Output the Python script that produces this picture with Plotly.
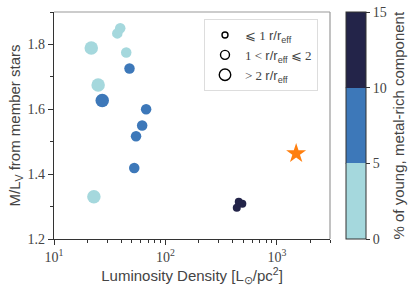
import plotly.graph_objects as go

# ---- data ----
lum_density = [21.6, 39.3, 37.0, 44.5, 47.6, 24.9, 27.1, 67.1, 61.8, 54.5, 52.5, 22.8, 455, 490, 437]
ml_ratio = [1.789, 1.850, 1.834, 1.775, 1.726, 1.675, 1.627, 1.600, 1.550, 1.517, 1.419, 1.330, 1.315, 1.309, 1.296]
young_pct = [2, 2, 2, 2, 7, 2, 7, 7, 7, 7, 7, 2, 12, 12, 12]
radius_class = [3, 2, 2, 2, 2, 3, 3, 2, 2, 2, 2, 3, 1, 1, 1]

star_lum = [1490]
star_ml = [1.464]

legend_labels = [
    '⩽ 1 <span style="font-family:Liberation Sans">r/r<sub>eff</sub></span>',
    '1 &lt; <span style="font-family:Liberation Sans">r/r<sub>eff</sub></span> ⩽ 2',
    '&gt; 2 <span style="font-family:Liberation Sans">r/r<sub>eff</sub></span>',
]
x_tickvals = [10, 100, 1000]
x_ticktext = ['10<sup>1</sup>', '10<sup>2</sup>', '10<sup>3</sup>']
y_tickvals = [1.2, 1.4, 1.6, 1.8]
cbar_ticks = [0, 5, 10, 15]
cbar_title = '% of young, metal-rich component'

# ---- styles ----
C_LIGHT, C_MID, C_DARK = '#a5d8dd', '#3d78b9', '#232449'
size_map = {1: 8, 2: 10.5, 3: 13.5}
legend_sizes = [6, 9, 11.5]
SERIF = 'Liberation Serif'
SANS = 'Liberation Sans'

colorscale = [[0, C_LIGHT], [1/3, C_LIGHT], [1/3, C_MID], [2/3, C_MID], [2/3, C_DARK], [1, C_DARK]]

W, H = 415, 291
L, R, T, B = 54, 85, 12, 52
pw = W - L - R
ph = H - T - B
cb_x0 = (345.7 - L) / pw
cb_x1 = (365.7 - L) / pw

fig = go.Figure()

fig.add_trace(go.Scatter(
    x=lum_density, y=ml_ratio, mode='markers', showlegend=False,
    marker=dict(
        size=[size_map[c] for c in radius_class], opacity=1,
        color=young_pct, colorscale=colorscale, cmin=0, cmax=15,
        line=dict(width=0),
        showscale=True,
        colorbar=dict(
            x=cb_x0, xanchor='left', xpad=0, y=0.5, yanchor='middle', ypad=0,
            len=1, lenmode='fraction', thickness=20, thicknessmode='pixels',
            outlinewidth=1, outlinecolor='#333333',
            tickmode='array', tickvals=cbar_ticks, ticks='outside', ticklen=4,
            tickcolor='#333333', tickfont=dict(family=SERIF, size=14, color='#444444'),
        ),
    ),
))

fig.add_trace(go.Scatter(
    x=star_lum, y=star_ml, mode='markers', showlegend=False,
    marker=dict(symbol='star', size=15, color='#ff7f0e', opacity=1, line=dict(width=0)),
))

for lab, s in zip(legend_labels, legend_sizes):
    fig.add_trace(go.Scatter(
        x=[None], y=[None], mode='markers', name=lab, showlegend=True,
        marker=dict(size=s, color='rgba(0,0,0,0)', line=dict(color='black', width=1.4)),
    ))

# colorbar dividers and light top/right spines
shapes = []
for v in (5, 10):
    shapes.append(dict(type='line', xref='paper', yref='paper', x0=cb_x0, x1=cb_x1,
                       y0=v / 15, y1=v / 15, line=dict(color='#333333', width=1)))
shapes.append(dict(type='line', xref='paper', yref='paper', x0=0, x1=1, y0=1, y1=1,
                   line=dict(color='#999999', width=1.2)))
shapes.append(dict(type='line', xref='paper', yref='paper', x0=1, x1=1, y0=0, y1=1,
                   line=dict(color='#999999', width=1.2)))

fig.update_layout(
    width=W, height=H,
    margin=dict(l=L, r=R, t=T, b=B, autoexpand=False),
    paper_bgcolor='white', plot_bgcolor='white',
    shapes=shapes,
    annotations=[dict(text=cbar_title, xref='paper', yref='paper',
                      x=(398 - L) / pw, y=(239 - 125.5) / ph, xanchor='center', yanchor='middle',
                      textangle=-90, showarrow=False,
                      font=dict(family=SANS, size=15, color='#444444'))],
    showlegend=True,
    legend=dict(
        x=(204 - L) / pw, xanchor='left', y=1 - (19 - T) / ph, yanchor='top',
        bgcolor='white', bordercolor='#dddddd', borderwidth=1,
        font=dict(family=SERIF, size=13, color='#444444'),
        itemsizing='trace', itemwidth=30, tracegroupgap=0,
    ),
    xaxis=dict(
        type='log', range=[1, 3.477], automargin=False,
        tickmode='array', tickvals=x_tickvals, ticktext=x_ticktext,
        ticks='outside', ticklen=5, tickcolor='#333333', tickwidth=1,
        tickfont=dict(family=SERIF, size=14, color='#444444'),
        minor=dict(tickmode='array',
                   tickvals=[20, 30, 40, 50, 60, 70, 80, 90, 200, 300, 400, 500, 600, 700, 800, 900, 2000, 3000],
                   ticks='outside', ticklen=3, tickcolor='#333333', showgrid=False),
        showline=True, linecolor='#333333', linewidth=1.2,
        showgrid=False, zeroline=False,
        title=dict(text='Luminosity Density [L<sub>⊙</sub>/pc<sup>2</sup>]',
                   font=dict(family=SANS, size=15, color='#444444'), standoff=3),
    ),
    yaxis=dict(
        range=[1.2, 1.9], automargin=False,
        tickmode='array', tickvals=y_tickvals, ticktext=[f'{v:.1f}' for v in y_tickvals],
        ticks='outside', ticklen=5, tickcolor='#333333', tickwidth=1,
        tickfont=dict(family=SERIF, size=14, color='#444444'),
        minor=dict(tickmode='array', tickvals=[1.3, 1.5, 1.7, 1.9],
                   ticks='outside', ticklen=3, tickcolor='#333333', showgrid=False),
        showline=True, linecolor='#333333', linewidth=1.2,
        showgrid=False, zeroline=False,
        title=dict(text='M/L<sub>V</sub> from member stars',
                   font=dict(family=SANS, size=15, color='#444444'), standoff=3),
    ),
)

fig.write_html('out.html', config={'displayModeBar': False},
               post_script="document.body.style.margin='0';document.body.style.overflow='hidden';")
